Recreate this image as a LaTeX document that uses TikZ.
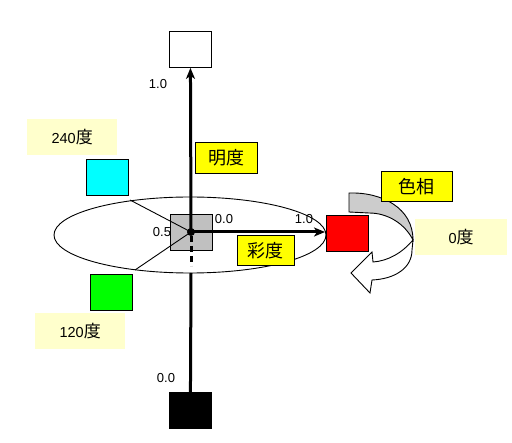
\documentclass[tikz,border=0pt]{standalone}
\usepackage{fontspec}
\setmainfont{Liberation Sans}
\newfontfamily\cjk{Noto Sans CJK JP}
\usetikzlibrary{arrows.meta}
\definecolor{pale}{RGB}{255,255,204}
\definecolor{boxgray}{RGB}{192,192,192}
\definecolor{bandgray}{RGB}{204,204,204}
\definecolor{pcyan}{RGB}{0,255,255}
\definecolor{pgreen}{RGB}{0,255,0}
\definecolor{pred}{RGB}{255,0,0}
\definecolor{pyellow}{RGB}{255,255,0}
\tikzset{
  colbox/.style={draw=black, line width=0.9pt, minimum width=42pt, minimum height=36pt, inner sep=0pt, anchor=north west},
  ylabel/.style={draw=black, line width=0.9pt, fill=pyellow, inner sep=0pt, anchor=north west, font=\cjk\fontsize{18}{18}\selectfont},
  plabel/.style={fill=pale, inner sep=0pt, anchor=north west, font=\fontsize{14.5}{14.5}\selectfont},
  numlab/.style={font=\fontsize{13}{13}\selectfont, inner sep=0pt},
  axis/.style={line width=3pt},
  thin/.style={line width=0.9pt}
}
\begin{document}
\begin{tikzpicture}[x=1pt,y=-1pt]
\useasboundingbox (0,0) rectangle (512,443);
% ellipse
\draw[thin] (190,235) ellipse [x radius=136, y radius=38];
% central gray box
\node[colbox, fill=boxgray] (gbox) at (170,214) {};
% colour boxes
\node[colbox, fill=white] (wbox) at (169,31) {};
\node[colbox, fill=black] (kbox) at (169,392) {};
\node[colbox, fill=pcyan] (cbox) at (86,159) {};
\node[colbox, fill=pgreen] (grbox) at (90,274) {};
\node[colbox, fill=pred] (rbox) at (326,215) {};
% coordinates
\coordinate (o) at (191,232);
\coordinate (e240) at (130,200);
\coordinate (e120) at (135,270);
\coordinate (eb) at (191,273);
\coordinate (ed) at (191,266);
\coordinate (er) at (325,232);
% radius lines
\draw[thin] (o) -- (e240);
\draw[thin] (o) -- (e120);
% axes
\draw[axis, -{Stealth[length=11pt,width=9pt,inset=3pt]}] (o) -- (wbox.south);
\draw[axis, -{Stealth[length=11pt,width=9pt,inset=3pt]}] (o) -- (er);
\draw[axis, dash pattern=on 6pt off 4pt] ([yshift=-4pt]o) -- (ed);
\draw[axis] (eb) -- (kbox.north);
\fill (o) circle (4pt);
% number labels
\node[numlab] (l10a) at (158,84) {1.0};
\node[numlab] (l00a) at (166,378) {0.0};
\node[numlab] (l00b) at (224,219) {0.0};
\node[numlab] (l10b) at (304,219) {1.0};
\node[numlab] (l05) at (162,232) {0.5};
% yellow labels
\node[ylabel, minimum width=62pt, minimum height=31pt] (mei) at (195,142) {明度};
\node[ylabel, minimum width=57pt, minimum height=30pt] (sai) at (237,235) {彩度};
% hue arrow
\draw[thin, fill=bandgray] (349,193) .. controls (382,192) and (413,208) .. (413,240)
  .. controls (405,224) and (388,213) .. (369,213) -- (349,212) -- cycle;
\draw[thin, fill=white] (413,240) .. controls (402,253) and (388,261) .. (373,262)
  -- (372,252) -- (351,273) -- (370,293) -- (372,280)
  .. controls (395,279) and (412,268) .. (412,250) -- cycle;
\node[ylabel, minimum width=71pt, minimum height=30pt] (shiki) at (381,171) {色相};
% pale labels
\node[plabel, minimum width=90pt, minimum height=36pt] (d240) at (27,119) {240{\cjk\fontsize{17}{17}\selectfont 度}};
\node[plabel, minimum width=90pt, minimum height=36pt] (d120) at (35,313) {120{\cjk\fontsize{17}{17}\selectfont 度}};
\node[plabel, minimum width=92pt, minimum height=36pt] (d0) at (415,219) {0{\cjk\fontsize{17}{17}\selectfont 度}};
\end{tikzpicture}
\end{document}
